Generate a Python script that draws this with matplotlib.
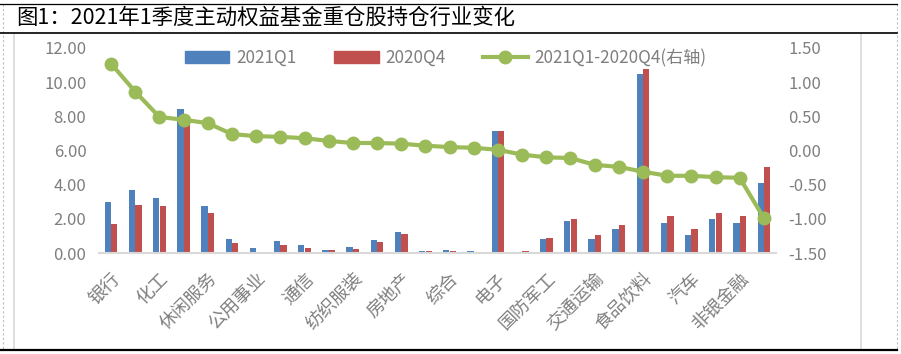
import numpy as np
import matplotlib
matplotlib.use('Agg')
import matplotlib.pyplot as plt
from matplotlib.lines import Line2D
from matplotlib.patches import Patch

plt.rcParams['font.family'] = ['Noto Sans CJK SC', 'DejaVu Sans']

# 28 industries, only every other one is labelled on the axis
industries = ['银行', '有色金属', '化工', '医药生物', '休闲服务', '采掘', '公用事业', '钢铁',
              '通信', '建筑装饰', '纺织服装', '建筑材料', '房地产', '商业贸易', '综合', '农林牧渔',
              '电子', '轻工制造', '国防军工', '传媒', '交通运输', '计算机', '食品饮料', '家用电器',
              '汽车', '机械设备', '非银金融', '电气设备']
q1_2021 = [2.97, 3.68, 3.21, 8.43, 2.74, 0.80, 0.27, 0.68, 0.45, 0.16, 0.33, 0.74, 1.21, 0.10,
           0.16, 0.10, 7.16, 0.04, 0.80, 1.86, 0.80, 1.39, 10.49, 1.76, 1.04, 1.98, 1.76, 4.09]
q4_2020 = [1.68, 2.82, 2.74, 8.02, 2.35, 0.59, 0.06, 0.45, 0.27, 0.16, 0.22, 0.63, 1.10, 0.10,
           0.10, 0.04, 7.16, 0.10, 0.86, 1.98, 1.04, 1.62, 10.78, 2.15, 1.39, 2.33, 2.15, 5.05]
change = [1.27, 0.86, 0.49, 0.45, 0.40, 0.24, 0.21, 0.20, 0.18, 0.14, 0.11, 0.11, 0.10, 0.07,
          0.05, 0.04, 0.01, -0.06, -0.10, -0.11, -0.21, -0.24, -0.31, -0.37, -0.37, -0.39, -0.40, -0.99]
left_ticks = [0, 2, 4, 6, 8, 10, 12]
right_ticks = [-1.5, -1.0, -0.5, 0.0, 0.5, 1.0, 1.5]

blue = '#4F81BD'
red = '#C0504D'
green = '#9BBB59'
grey = '#7F7F7F'

W, H = 901, 354
fig = plt.figure(figsize=(W / 100, H / 100), dpi=100)


def px(x, y):
    return x / W, 1 - y / H


def hline(x0, x1, y, **kw):
    fig.add_artist(Line2D([x0 / W, x1 / W], [1 - y / H, 1 - y / H], transform=fig.transFigure, **kw))


def vline(x, y0, y1, **kw):
    fig.add_artist(Line2D([x / W, x / W], [1 - y0 / H, 1 - y1 / H], transform=fig.transFigure, **kw))


# page frame
vline(3, 4, 350, color='#BFBFBF', lw=0.8, ls=(0, (2, 2)))
vline(897, 4, 350, color='#BFBFBF', lw=0.8, ls=(0, (2, 2)))
vline(13.5, 34, 350, color='#D9D9D9', lw=1.2)
vline(861, 34, 350, color='#D9D9D9', lw=1.2)
hline(0, 897, 4, color='black', lw=0.9)
hline(0, 897, 33, color='black', lw=1.2)
hline(0, 897, 350, color='black', lw=1.6)

x0, y0 = px(16, 18)
fig.text(x0, y0, '图1：2021年1季度主动权益基金重仓股持仓行业变化', fontsize=15.4,
         fontweight='medium', color='black', ha='left', va='center')

ax = fig.add_axes([99 / W, 1 - 253 / H, 677 / W, 205 / H])
x = np.arange(len(industries))
ax.bar(x - 0.135, q1_2021, 0.26, color=blue)
ax.bar(x + 0.135, q4_2020, 0.26, color=red)
ax.set_xlim(-0.5, len(industries) - 0.5)
ax.set_ylim(0, 12)
ax.set_yticks(left_ticks)
ax.set_yticklabels([f'{v:.2f}' for v in left_ticks])
ax.set_xticks(x[::2])
ax.set_xticklabels(industries[::2], rotation=45, ha='right', va='top', rotation_mode='anchor',
                   fontweight='light')
for s in ['top', 'left', 'right']:
    ax.spines[s].set_visible(False)
ax.spines['bottom'].set_color('#D9D9D9')
ax.spines['bottom'].set_linewidth(1.5)
ax.tick_params(axis='y', length=0, pad=9, labelsize=12, labelcolor=grey)
ax.tick_params(axis='x', length=0, pad=12, labelsize=13, labelcolor=grey)

ax2 = ax.twinx()
ax2.plot(x, change, color=green, lw=3, marker='o', ms=9, zorder=3)
ax2.set_ylim(-1.5, 1.5)
ax2.set_yticks(right_ticks)
ax2.set_yticklabels([f'{v:.2f}' for v in right_ticks])
for s in ['top', 'left', 'right', 'bottom']:
    ax2.spines[s].set_visible(False)
ax2.tick_params(axis='y', length=0, pad=9, labelsize=12, labelcolor=grey)
for t in ax.get_yticklabels() + ax2.get_yticklabels():
    t.set_fontweight('light')

handles = [Patch(color=blue), Patch(color=red),
           Line2D([], [], color=green, lw=3, marker='o', ms=9)]
lx, ly = px(185, 58)
leg = ax2.legend(handles, ['2021Q1', '2020Q4', '2021Q1-2020Q4(右轴)'], ncol=3, frameon=False,
                 loc='center left', bbox_to_anchor=(lx, ly), bbox_transform=fig.transFigure,
                 borderpad=0, borderaxespad=0, handlelength=2.6, handletextpad=0.4,
                 columnspacing=2.2, prop={'size': 12.3, 'weight': 'light'})
for t in leg.get_texts():
    t.set_color(grey)

fig.savefig('out.png', dpi=100)
